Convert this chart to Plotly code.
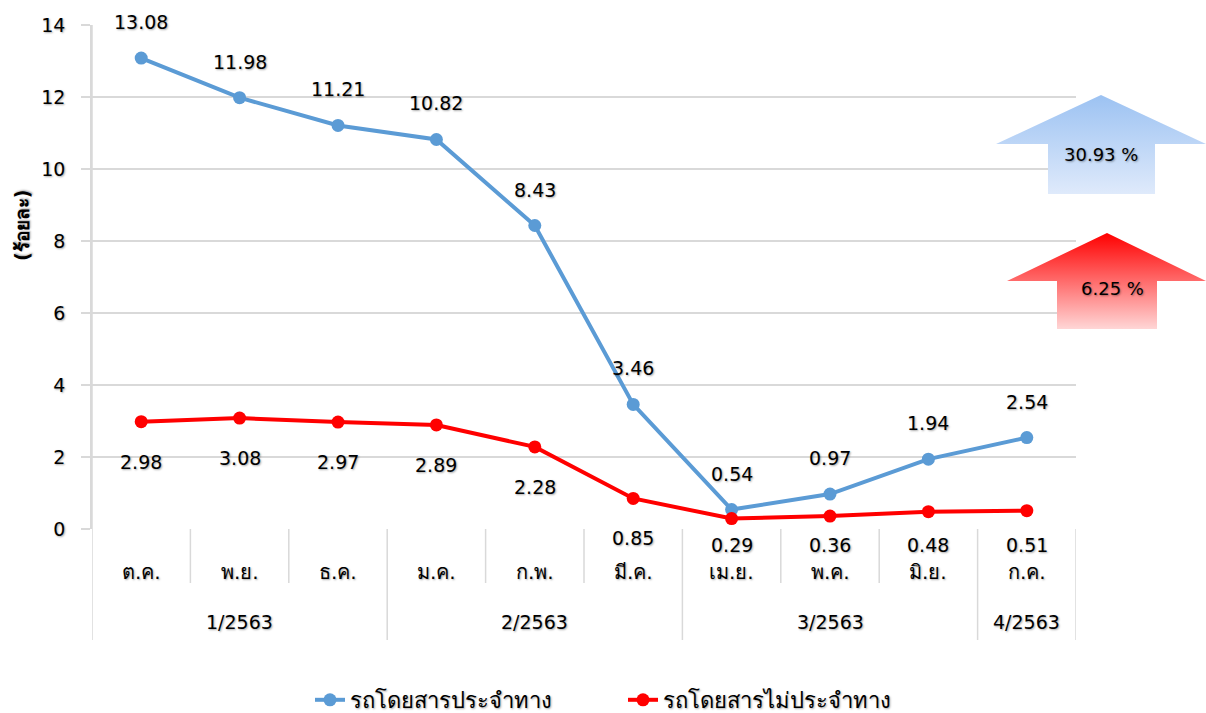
import plotly.graph_objects as go

# ---------------- data ----------------
months = ["ต.ค.", "พ.ย.", "ธ.ค.", "ม.ค.", "ก.พ.", "มี.ค.", "เม.ย.", "พ.ค.", "มิ.ย.", "ก.ค."]
quarters = ["1/2563", "2/2563", "3/2563", "4/2563"]
quarter_sizes = [3, 3, 3, 1]
fixed_route = [13.08, 11.98, 11.21, 10.82, 8.43, 3.46, 0.54, 0.97, 1.94, 2.54]
non_fixed_route = [2.98, 3.08, 2.97, 2.89, 2.28, 0.85, 0.29, 0.36, 0.48, 0.51]
series_names = ["รถโดยสารประจำทาง", "รถโดยสารไม่ประจำทาง"]
change_labels = ["30.93 %", "6.25 %"]
y_title = "(ร้อยละ)"
y_ticks = [0, 2, 4, 6, 8, 10, 12, 14]

# ---------------- layout geometry ----------------
W, H = 1206, 713
L, R, T, B = 92, 1076, 25, 529
YMAX = 14
BLUE = "#5b9bd5"
RED = "#ff0000"
GRID = "#d9d9d9"
FONT = "'DejaVu Sans', Tahoma, sans-serif"
SHADOW = "1px 1px 2px rgba(0,0,0,0.35)"


def px_y(v):
    return B - (B - T) * v / YMAX


def pap_y(py):
    return 1 - py / H


def pap_x(px):
    return px / W


x = list(range(len(months)))

fig = go.Figure()

fig.add_trace(go.Scatter(
    x=x, y=fixed_route, name=series_names[0], mode="lines+markers",
    line=dict(color=BLUE, width=4), marker=dict(color=BLUE, size=13),
    hoverinfo="skip"))
fig.add_trace(go.Scatter(
    x=x, y=non_fixed_route, name=series_names[1], mode="lines+markers",
    line=dict(color=RED, width=4), marker=dict(color=RED, size=13),
    hoverinfo="skip"))

num_font = dict(family=FONT, size=19, color="black", shadow=SHADOW)
thai_font = dict(family=FONT, size=20, color="black", shadow=SHADOW)
annotations = []
for i, v in enumerate(fixed_route):
    annotations.append(dict(x=i, y=v, xref="x", yref="y", text=f"{v:.2f}",
                            showarrow=False, yshift=36, font=num_font))
for i, v in enumerate(non_fixed_route):
    off = min(40, 545 - px_y(v))
    annotations.append(dict(x=i, y=v, xref="x", yref="y", text=f"{v:.2f}",
                            showarrow=False, yshift=-off, font=num_font))

# month labels
for i, m in enumerate(months):
    annotations.append(dict(x=i, y=pap_y(572), xref="x", yref="paper", text=m,
                            showarrow=False, font=thai_font, yanchor="middle"))

# quarter labels and separators
shapes = []
start = 0
bounds = [-0.5]
for q, n in zip(quarters, quarter_sizes):
    center = start + (n - 1) / 2
    annotations.append(dict(x=center, y=pap_y(622), xref="x", yref="paper", text=q,
                            showarrow=False, font=num_font, yanchor="middle"))
    for k in range(1, n):
        xs = start + k - 0.5
        shapes.append(dict(type="line", xref="x", yref="paper", x0=xs, x1=xs,
                           y0=pap_y(B), y1=pap_y(583), line=dict(color=GRID, width=1.5)))
    start += n
    bounds.append(start - 0.5)

for b in bounds:
    y0 = pap_y(T) if b == -0.5 else pap_y(B)
    shapes.append(dict(type="line", xref="x", yref="paper", x0=b, x1=b,
                       y0=y0, y1=pap_y(640), line=dict(color=GRID, width=1.5)))

# y-axis title
annotations.append(dict(x=pap_x(22), y=pap_y(226), xref="paper", yref="paper",
                        xanchor="center", yanchor="middle",
                        text=f"<b>{y_title}</b>", textangle=-90, showarrow=False,
                        font=dict(family=FONT, size=19, color="black", shadow=SHADOW)))

# arrows (pixel coordinate overlay)
arrows = [
    dict(tip=(1101, 95), head_y=144, head_l=996, head_r=1206, sh_l=1048, sh_r=1155, bot=194,
         top_c="#9cc2f2", bot_c="#dfeafb", text=change_labels[0], tx=1101, ty=154),
    dict(tip=(1107, 233), head_y=281, head_l=1007, head_r=1206, sh_l=1057, sh_r=1157, bot=329,
         top_c="#ff0000", bot_c="#ffd6d6", text=change_labels[1], tx=1112, ty=288),
]
for a in arrows:
    xs = [a["tip"][0], a["head_r"], a["sh_r"], a["sh_r"], a["sh_l"], a["sh_l"], a["head_l"], a["tip"][0]]
    ys = [a["tip"][1], a["head_y"], a["head_y"], a["bot"], a["bot"], a["head_y"], a["head_y"], a["tip"][1]]
    fig.add_trace(go.Scatter(
        x=xs, y=ys, xaxis="x2", yaxis="y2", mode="lines", fill="toself",
        line=dict(width=0, color="rgba(0,0,0,0)"),
        fillgradient=dict(type="vertical", start=a["tip"][1], stop=a["bot"],
                          colorscale=[[0, a["top_c"]], [1, a["bot_c"]]]),
        showlegend=False, hoverinfo="skip"))
    annotations.append(dict(x=a["tx"], y=a["ty"], xref="x2", yref="y2", text=a["text"],
                            showarrow=False, font=dict(family=FONT, size=18, color="black", shadow=SHADOW)))

fig.update_layout(
    width=W, height=H, autosize=False,
    margin=dict(l=0, r=0, t=0, b=0, pad=0, autoexpand=False),
    paper_bgcolor="white", plot_bgcolor="rgba(0,0,0,0)",
    font=dict(family=FONT, size=18, color="black"),
    xaxis=dict(domain=[pap_x(L), pap_x(R)], range=[-0.5, len(months) - 0.5],
               showticklabels=False, showgrid=False, zeroline=False, ticks="",
               automargin=False, fixedrange=True),
    yaxis=dict(domain=[pap_y(B), pap_y(T)], range=[0, YMAX], tickvals=y_ticks,
               showgrid=True, gridcolor=GRID, gridwidth=1.5, zeroline=False,
               showline=True, linecolor=GRID, linewidth=1.5,
               ticks="outside", ticklen=9, tickcolor=GRID, tickwidth=1.5,
               ticklabelstandoff=12, automargin=False,
               tickfont=dict(family=FONT, size=19, color="black", shadow=SHADOW),
               fixedrange=True),
    xaxis2=dict(domain=[0, 1], range=[0, W], visible=False, anchor="y2",
                automargin=False, fixedrange=True),
    yaxis2=dict(domain=[0, 1], range=[H, 0], visible=False, anchor="x2",
                automargin=False, fixedrange=True),
    legend=dict(orientation="h", x=pap_x(310), xanchor="left", y=pap_y(700), yanchor="middle",
                entrywidth=268, entrywidthmode="pixels",
                font=dict(family=FONT, size=22, color="black", shadow=SHADOW),
                bgcolor="rgba(0,0,0,0)"),
    annotations=annotations,
    shapes=shapes,
    showlegend=True,
)

fig.write_html("out.html", config={"displayModeBar": False},
               post_script="document.body.style.margin='0px';document.body.style.overflow='hidden';")
